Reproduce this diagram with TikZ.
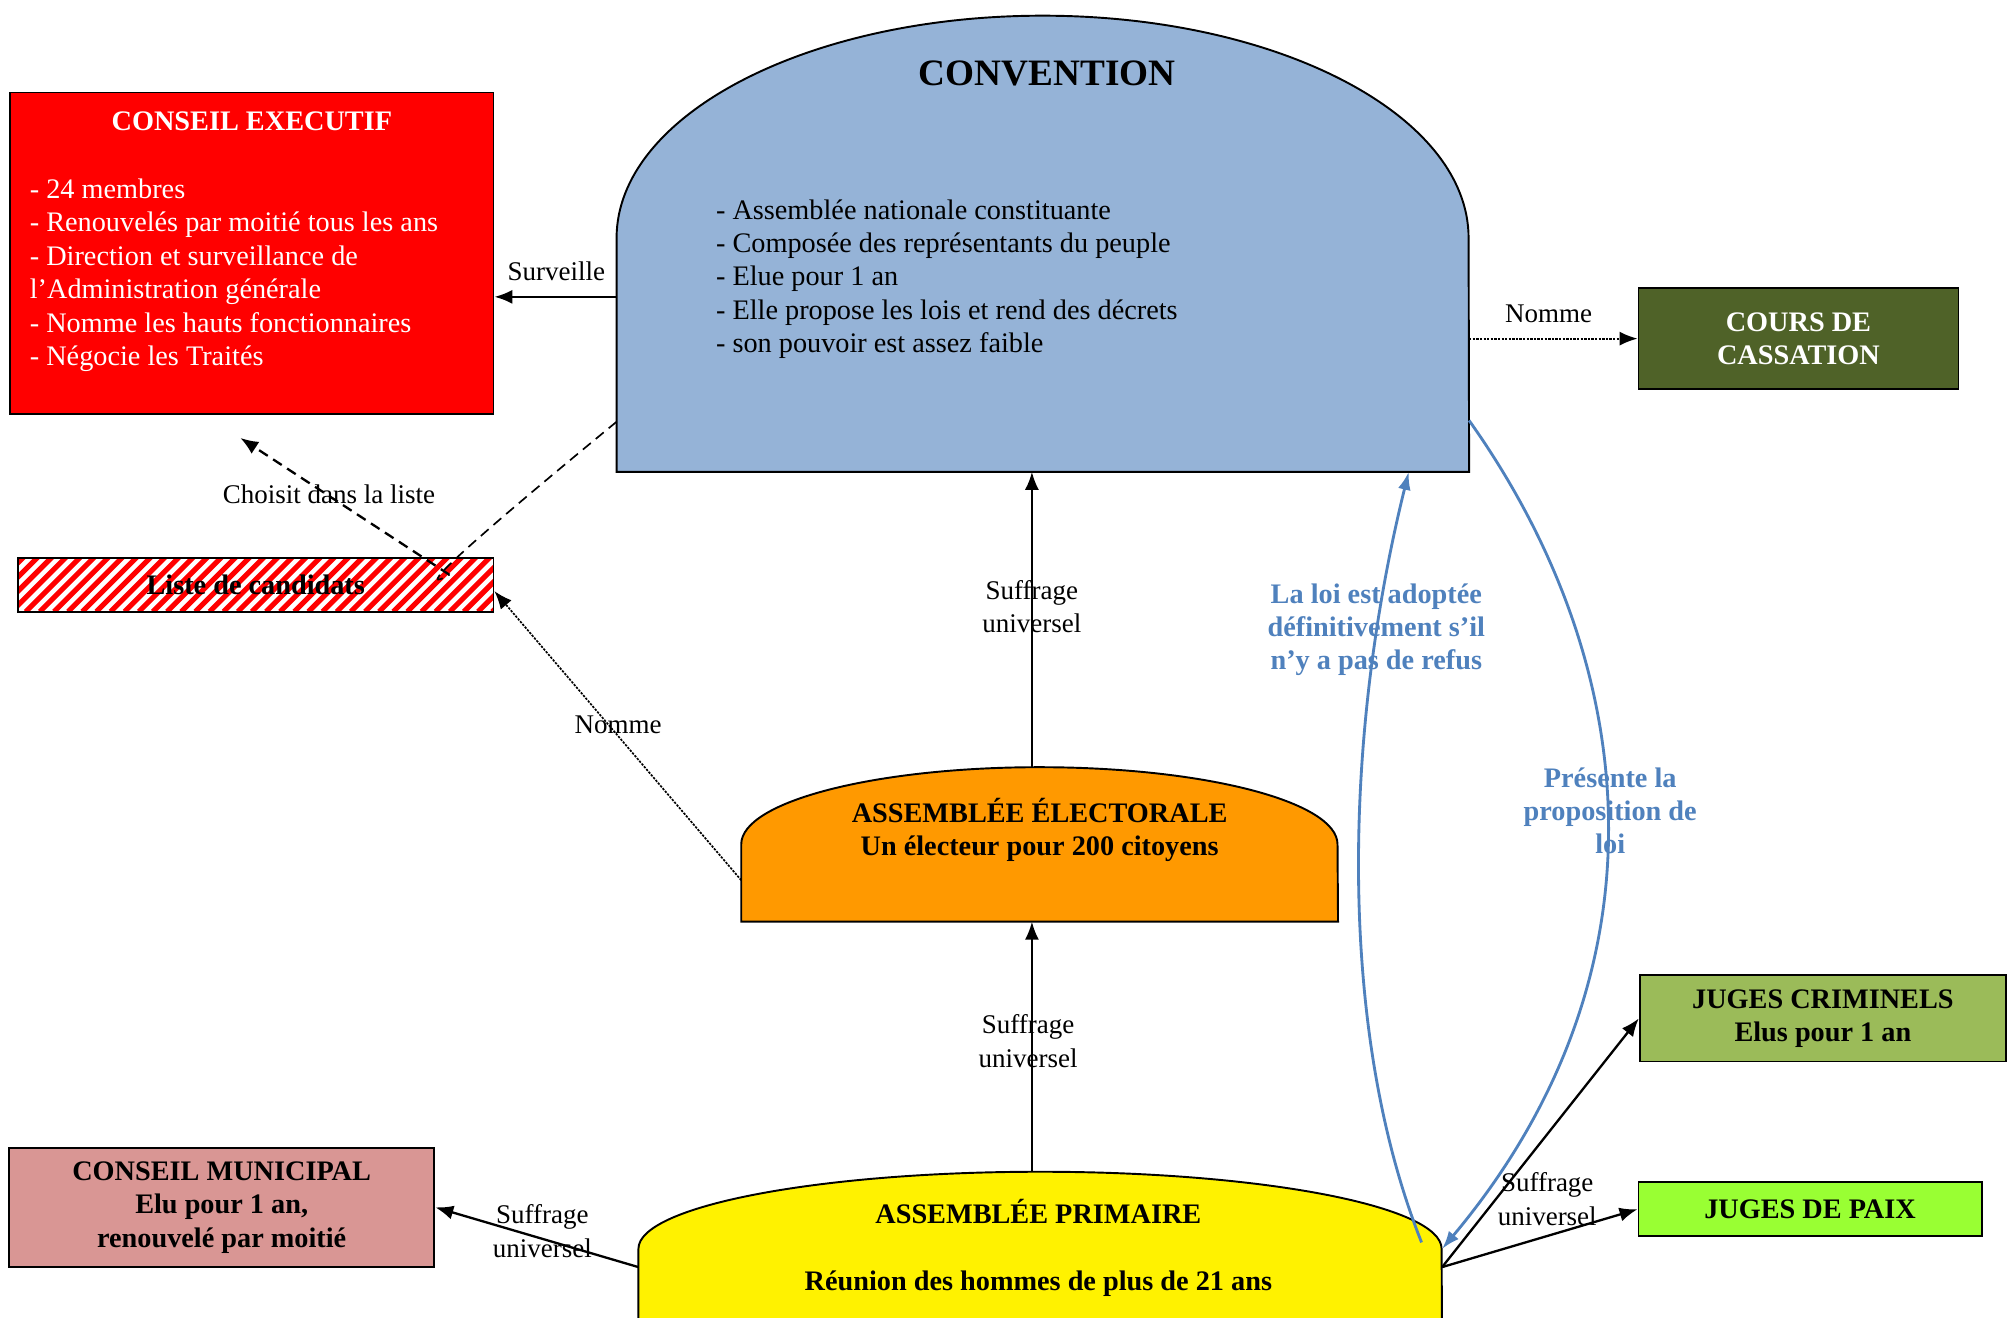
\documentclass[tikz,border=0pt]{standalone}
\usepackage{fontspec}
\setmainfont{Liberation Serif}
\usetikzlibrary{arrows.meta, calc}
\definecolor{bleuconv}{HTML}{95B3D7}
\definecolor{bleufleche}{HTML}{4F81BD}
\definecolor{orangeelec}{HTML}{FF9900}
\definecolor{vertolive}{HTML}{4F6228}
\definecolor{vertcrim}{HTML}{9BBB59}
\definecolor{vertpaix}{HTML}{99FF33}
\definecolor{rosemuni}{HTML}{D99694}
\tikzset{boite/.style = {draw, line width=1.5pt, inner sep=0pt},
  texte/.style = {font=\fontsize{22}{26}\selectfont, align=left, inner sep=0pt},
  gras/.style = {font=\fontsize{22}{26}\selectfont\bfseries, align=center, inner sep=0pt},
  etiq/.style = {font=\fontsize{21}{26}\selectfont, align=center, inner sep=0pt},
  fleche/.style = {-{Latex[length=14pt, width=11pt]}, line width=1.8pt},
  tirets/.style = {dash pattern=on 8pt off 5pt},
  flechebleue/.style = {-{Latex[length=14pt, width=10pt]}, line width=2.2pt, draw=bleufleche}}

\begin{document}
\begin{tikzpicture}[x=1pt, y=-1pt]
\useasboundingbox (0,0) rectangle (1568,1025);
\clip (0,0) rectangle (1568,1025);
\fill[white] (0,0) rectangle (1568,1025);
\node[boite, fill=red, minimum width=376pt, minimum height=250pt] (ce) at (196,197) {};
\node[gras, text=white] (cetitre) at (196,94) {CONSEIL EXECUTIF};
\node[texte, text=white, anchor=north west] (cetexte) at (23,139) {- 24 membres\\- Renouvelés par moitié tous les ans\\- Direction et surveillance de\\l’Administration générale\\- Nomme les hauts fonctionnaires\\- Négocie les Traités};
\node[boite, gras, minimum width=370pt, minimum height=42pt, path picture={
  \foreach \i in {0,11,...,440}
    \draw[red, line width=4pt] ([xshift={\i-60}]path picture bounding box.south west) -- ++(60,-60);
  }] (liste) at (199,455) {Liste de candidats};
\node[minimum width=663pt, minimum height=355pt, inner sep=0pt] (conv) at (811.5,189.5) {};
\draw[line width=1.5pt, fill=bleuconv] (conv.south west) -- ([yshift=182pt]conv.south west) arc[start angle=180, end angle=0, x radius=331.5pt, y radius=173pt] -- (conv.south east) -- cycle;
\node[font=\fontsize{29}{34}\selectfont\bfseries] (convtitre) at (815,57) {CONVENTION};
\node[texte, anchor=north west] (convtexte) at (557,155) {- Assemblée nationale constituante\\- Composée des représentants du peuple\\- Elue pour 1 an\\- Elle propose les lois et rend des décrets\\- son pouvoir est assez faible};
\node[minimum width=464pt, minimum height=120pt, inner sep=0pt] (elec) at (809,657) {};
\draw[line width=1.5pt, fill=orangeelec] (elec.south west) -- (elec.west) arc[start angle=180, end angle=0, x radius=232pt, y radius=60pt] -- (elec.south east) -- cycle;
\node[gras] (electexte) at (809,646) {ASSEMBLÉE ÉLECTORALE\\Un électeur pour 200 citoyens};
\node[minimum width=625pt, minimum height=148pt, inner sep=0pt] (prim) at (809.5,986) {};
\draw[line width=1.5pt, fill=yellow] (prim.south west) -- ([yshift=-60pt]prim.north west) arc[start angle=180, end angle=0, x radius=312.5pt, y radius=60pt] -- (prim.south east) -- cycle;
\node[gras] (primtexte) at (808,971) {ASSEMBLÉE PRIMAIRE\\[26pt]Réunion des hommes de plus de 21 ans};
\node[boite, gras, fill=rosemuni, minimum width=331pt, minimum height=93pt] (muni) at (172.5,939.5) {CONSEIL MUNICIPAL\\Elu pour 1 an,\\renouvelé par moitié};
\node[boite, gras, fill=vertolive, text=white, minimum width=249pt, minimum height=79pt] (cass) at (1399.5,263.5) {COURS DE\\CASSATION};
\node[boite, gras, fill=vertcrim, minimum width=285pt, minimum height=67pt] (crim) at (1418.5,792.5) {JUGES CRIMINELS\\Elus pour 1 an};
\node[boite, gras, fill=vertpaix, minimum width=267pt, minimum height=42pt] (paix) at (1408.5,941) {JUGES DE PAIX};
\coordinate (surv) at ([yshift=-34pt]ce.east);
\draw[fleche] (surv -| conv.west) -- (surv);
\node[etiq] (survtexte) at (433,211) {Surveille};
\draw[fleche, densely dotted, line width=1.5pt] (cass.west -| conv.east) -- (cass.west);
\node[etiq] (casstexte) at (1205,244) {Nomme};
\draw[fleche, densely dotted, line width=1.3pt] ([yshift=-28pt]elec.west) -- ([yshift=-5pt]liste.east);
\node[etiq] (nommetexte) at (481,564) {Nomme};
\coordinate (coude) at ([xshift=-35pt, yshift=-14pt]liste.north east);
\coordinate (choix) at ([xshift=-9pt, yshift=-18pt]ce.south);
\draw[tirets, line width=1.3pt] ([yshift=39pt]conv.south west) .. controls ([xshift=-40pt, yshift=-6pt]liste.north east) and ([xshift=-25pt, yshift=-14pt]coude) .. (coude);
\draw[fleche, tirets] (coude) -- (choix);
\node[etiq] (choixtexte) at (256,385) {Choisit dans la liste};
\draw[fleche] ([xshift=-6pt]elec.north) -- ([xshift=-8.5pt]conv.south);
\node[etiq] (suff1) at (803,472) {Suffrage\\universel};
\draw[fleche] ([xshift=-6.5pt]prim.north) -- ([xshift=-6pt]elec.south);
\node[etiq] (suff2) at (800,810) {Suffrage\\universel};
\draw[fleche] (prim.west) -- (muni.east);
\node[etiq] (suff3) at (422,958) {Suffrage\\universel};
\draw[fleche] (prim.east) -- (crim.west);
\draw[fleche] (prim.east) -- (paix.west);
\node[etiq] (suff4) at (1204,933) {Suffrage\\universel};
\draw[flechebleue] ([xshift=-16pt, yshift=-55pt]prim.north east) .. controls (1040,800) and (1046,570) .. ([xshift=-47pt]conv.south east);
\node[gras, text=bleufleche] (loitexte) at (1071,490) {La loi est adoptée\\définitivement s’il\\n’y a pas de refus};
\draw[flechebleue] ([yshift=40pt]conv.south east) .. controls (1280,520) and (1300,760) .. ([yshift=-60pt]prim.north east);
\node[gras, text=bleufleche] (proptexte) at (1253,631) {Présente la\\proposition de\\loi};
\end{tikzpicture}
\end{document}
